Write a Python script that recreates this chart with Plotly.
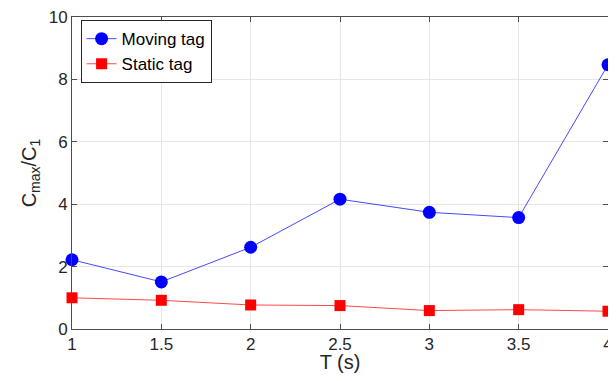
import plotly.graph_objects as go

T = [1, 1.5, 2, 2.5, 3, 3.5, 4]
moving_tag = [2.22, 1.51, 2.62, 4.16, 3.74, 3.57, 8.47]
static_tag = [1.0, 0.92, 0.77, 0.75, 0.59, 0.62, 0.57]

fig = go.Figure()
fig.add_trace(go.Scatter(
    x=T, y=moving_tag, mode="lines+markers", name="Moving tag",
    line=dict(color="rgba(40,40,255,0.85)", width=1),
    marker=dict(symbol="circle", size=13, color="#0000ff"),
    cliponaxis=False,
))
fig.add_trace(go.Scatter(
    x=T, y=static_tag, mode="lines+markers", name="Static tag",
    line=dict(color="rgba(255,40,40,0.85)", width=1),
    marker=dict(symbol="square", size=11, color="#ff0000"),
    cliponaxis=False,
))

axis_common = dict(
    showline=True, linecolor="#4d4d4d", linewidth=1, mirror="ticks",
    ticks="inside", ticklen=5, tickcolor="#4d4d4d",
    showgrid=True, gridcolor="#e6e6e6", gridwidth=1,
    zeroline=False, ticklabeloverflow="allow",
    tickfont=dict(family="Liberation Sans, Arial", size=17, color="#262626"),
)

# page body has an 8px default margin, so the figure is offset by (8, 8)
fig.update_layout(
    width=600, height=365,
    margin=dict(l=64, r=0, t=9, b=44, autoexpand=False),
    paper_bgcolor="white", plot_bgcolor="white",
    font=dict(family="Liberation Sans, Arial", size=17, color="#262626"),
    xaxis=dict(range=[1, 4], tickvals=T, ticktext=["1", "1.5", "2", "2.5", "3", "3.5", "4"],
               title=dict(text="T (s)", standoff=4), automargin=True, **axis_common),
    yaxis=dict(range=[0, 10], tickvals=[0, 2, 4, 6, 8, 10],
               title=dict(text="C<sub>max</sub>/C<sub>1</sub>", standoff=6), automargin=False,
               **axis_common),
    legend=dict(x=0.016, y=0.99, xanchor="left", yanchor="top",
                bgcolor="white", bordercolor="#262626", borderwidth=1,
                font=dict(size=17, color="#000000"),
                tracegroupgap=0, itemwidth=30),
    showlegend=True,
)

fig.write_html("out.html")
